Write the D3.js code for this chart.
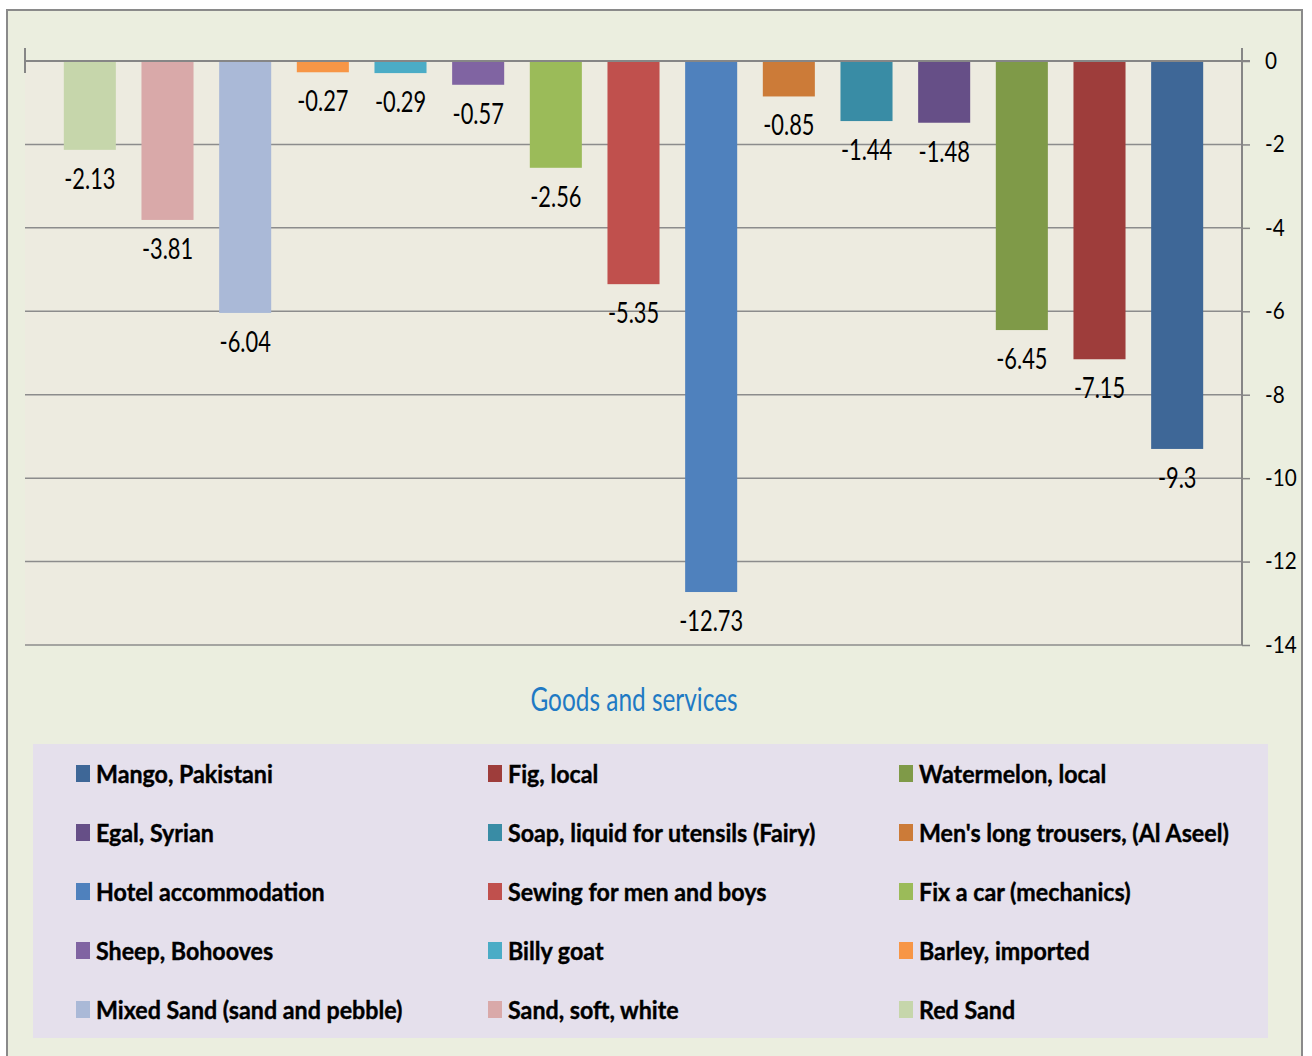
<!DOCTYPE html>
<html>
<head>
<meta charset="utf-8">
<script src="https://cdn.jsdelivr.net/npm/d3@7"></script>
<style>
  body { margin: 0; background: #fff; }
  svg text { font-family: Lato, "Open Sans", sans-serif; }
</style>
</head>
<body>
<div id="chart"></div>
<script>
// categories left to right, as the bars are drawn
const items = [
  'Red Sand', 'Sand, soft, white', 'Mixed Sand (sand and pebble)',
  'Barley, imported', 'Billy goat', 'Sheep, Bohooves',
  'Fix a car (mechanics)', 'Sewing for men and boys', 'Hotel accommodation',
  "Men's long trousers, (Al Aseel)", 'Soap, liquid for utensils (Fairy)', 'Egal, Syrian',
  'Watermelon, local', 'Fig, local', 'Mango, Pakistani'
];
const changes = [-2.13, -3.81, -6.04, -0.27, -0.29, -0.57, -2.56, -5.35, -12.73, -0.85, -1.44, -1.48, -6.45, -7.15, -9.3];
const colors = [
  '#c6d6ab', '#d9a9a9', '#aab9d7',
  '#f79646', '#4bacc6', '#8064a2',
  '#9bbb59', '#c0504d', '#4f81bd',
  '#cc7b38', '#398ca5', '#664f87',
  '#7f9a48', '#9e3d3b', '#3e6797'
];
const yTicks = [0, -2, -4, -6, -8, -10, -12, -14];
const titleText = 'Goods and services';

const width = 1312, height = 1056;
const plot = { left: 25, right: 1242, top: 61, bottom: 645 };
// the original text is tall and narrow, squeeze it horizontally
const squeeze = 0.78;

const svg = d3.select('#chart').append('svg')
  .attr('width', width)
  .attr('height', height);

// outer frame
svg.append('rect')
  .attr('x', 7).attr('y', 10)
  .attr('width', 1295).attr('height', 1060)
  .attr('fill', '#ebeedf')
  .attr('stroke', '#8a8a8a')
  .attr('stroke-width', 2);

// plot area background
svg.append('rect')
  .attr('x', plot.left).attr('y', plot.top)
  .attr('width', plot.right - plot.left)
  .attr('height', plot.bottom - plot.top)
  .attr('fill', '#edebe0');

const x = d3.scaleBand()
  .domain(items)
  .range([51, 1216])
  .paddingInner(0.33)
  .paddingOuter(0.165);

const y = d3.scaleLinear()
  .domain([0, -14])
  .range([plot.top, plot.bottom]);

// gridlines
svg.append('g')
  .selectAll('line')
  .data(yTicks.filter(t => t !== 0))
  .join('line')
  .attr('x1', plot.left).attr('x2', plot.right)
  .attr('y1', d => y(d)).attr('y2', d => y(d))
  .attr('stroke', '#8c8c8c')
  .attr('stroke-width', 1.5);

// bars
svg.append('g')
  .selectAll('rect')
  .data(changes)
  .join('rect')
  .attr('x', (d, i) => x(items[i]))
  .attr('y', y(0))
  .attr('width', x.bandwidth())
  .attr('height', d => y(d) - y(0))
  .attr('fill', (d, i) => colors[i]);

// value labels under each bar
svg.append('g')
  .selectAll('text')
  .data(changes)
  .join('text')
  .attr('transform', (d, i) => `translate(${x(items[i]) + x.bandwidth() / 2},${y(d) + 39}) scale(${squeeze},1)`)
  .attr('text-anchor', 'middle')
  .attr('font-size', 28)
  .attr('fill', '#000')
  .text(d => d);

// zero line (category axis) with its end tick
svg.append('line')
  .attr('x1', plot.left).attr('x2', plot.right + 8)
  .attr('y1', y(0)).attr('y2', y(0))
  .attr('stroke', '#868686')
  .attr('stroke-width', 2);
svg.append('line')
  .attr('x1', plot.left).attr('x2', plot.left)
  .attr('y1', y(0) - 13).attr('y2', y(0) + 12)
  .attr('stroke', '#868686')
  .attr('stroke-width', 2);

// value axis on the right
const yAxis = d3.axisRight(y)
  .tickValues(yTicks)
  .tickSize(8)
  .tickPadding(15)
  .tickFormat(d => d === 0 ? '0' : '-' + Math.abs(d));

const axisG = svg.append('g')
  .attr('transform', `translate(${plot.right},0)`)
  .call(yAxis);
axisG.select('.domain')
  .attr('d', `M0,${y(0) - 13}V${plot.bottom}`)
  .attr('stroke', '#868686')
  .attr('stroke-width', 2);
axisG.selectAll('.tick line').attr('stroke', '#868686').attr('stroke-width', 1.5);
axisG.selectAll('.tick text')
  .attr('font-size', 23)
  .attr('font-family', 'Lato, "Open Sans", sans-serif')
  .attr('fill', '#000')
  .attr('x', 23 / 0.9)
  .attr('transform', 'scale(0.9,1)');

// axis title
svg.append('text')
  .attr('transform', `translate(634,711) scale(0.74,1)`)
  .attr('text-anchor', 'middle')
  .attr('font-size', 33)
  .attr('fill', '#1f7ac4')
  .text(titleText);

// legend: reversed order, three columns
const legendItems = items.map((name, i) => ({ name, color: colors[i] })).reverse();
const legendX = [76, 488, 899];
const legendY0 = 773, legendStep = 59;

svg.append('rect')
  .attr('x', 33).attr('y', 744)
  .attr('width', 1235).attr('height', 294)
  .attr('fill', '#e5e0ec');

const legend = svg.append('g')
  .selectAll('g')
  .data(legendItems)
  .join('g')
  .attr('transform', (d, i) => `translate(${legendX[i % 3]},${legendY0 + Math.floor(i / 3) * legendStep})`);

legend.append('rect')
  .attr('x', 0).attr('y', -8)
  .attr('width', 14).attr('height', 17)
  .attr('fill', d => d.color);

legend.append('text')
  .attr('transform', `translate(20,10) scale(0.93,1)`)
  .attr('font-size', 25)
  .attr('font-weight', 'bold')
  .attr('fill', '#000')
  .attr('stroke', '#000')
  .attr('stroke-width', 0.4)
  .text(d => d.name);
</script>
</body>
</html>
